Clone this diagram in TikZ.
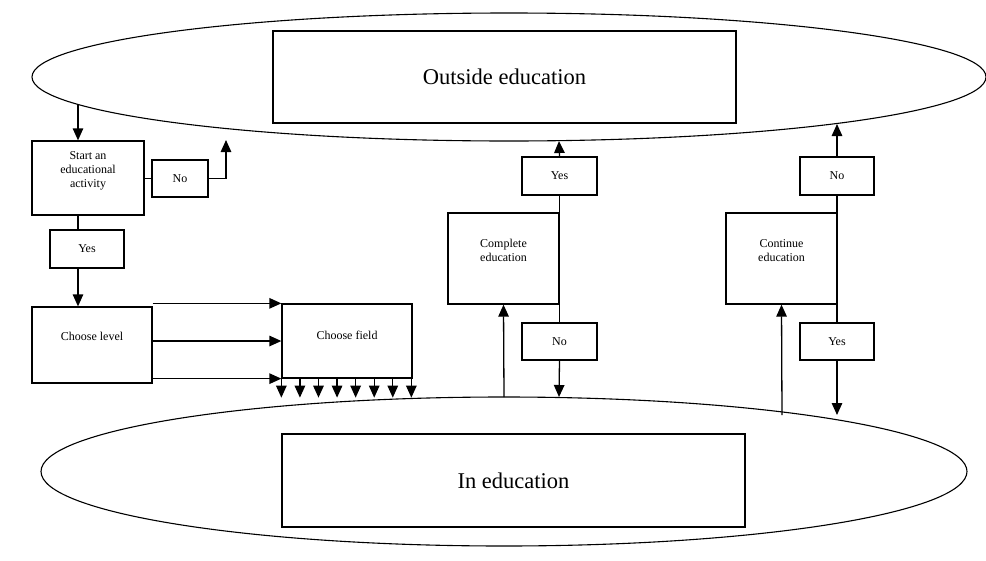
\documentclass[tikz,border=0pt]{standalone}
\usepackage{fontspec}
\setmainfont{Liberation Serif}
\usetikzlibrary{arrows.meta,shapes.geometric}

\tikzset{
  zone/.style={draw, ellipse, line width=1.1pt, inner sep=0pt},
  title/.style={draw, line width=1.3pt, inner sep=0pt, font=\fontsize{22.5}{26}\selectfont},
  box/.style={draw, line width=1.3pt, inner sep=0pt, align=center, font=\fontsize{12}{14}\selectfont},
  lbl/.style={align=center, inner sep=0pt, font=\fontsize{12}{14}\selectfont},
  arr/.style={line width=1.3pt, -{Triangle[length=12pt,width=10.5pt]}},
  ln/.style={line width=1.3pt}
}

\begin{document}
\begin{tikzpicture}[x=1pt, y=-1pt]
\useasboundingbox (0,0) rectangle (986,560);
%----------------------------------------
\node[zone, minimum width=954pt, minimum height=128pt] (outside) at (509,77) {};
\node[zone, minimum width=926pt, minimum height=149pt] (ineduc) at (504,471.5) {};
\node[title, minimum width=463pt, minimum height=92pt] (outbox) at (504.5,77) {Outside education};
\node[title, minimum width=463pt, minimum height=93pt] (inbox) at (513.5,480.5) {In education};
%----------------------------------------
\node[box, minimum width=112pt, minimum height=74pt,
      label={[lbl, yshift=7pt]center:Start an\\educational\\activity}] (start) at (88,178) {};
\node[box, minimum width=56pt, minimum height=37pt] (no1) at (180,178.5) {No};
\node[box, minimum width=74pt, minimum height=38pt] (yes1) at (87,249) {Yes};
\node[box, minimum width=120pt, minimum height=76pt,
      label={[lbl, yshift=9pt]center:Choose level}] (level) at (92,345) {};
\node[box, minimum width=130pt, minimum height=74pt,
      label={[lbl, yshift=6pt]center:Choose field}] (field) at (347,341) {};
\node[box, minimum width=111pt, minimum height=91pt,
      label={[lbl, yshift=8pt]center:Complete\\education}] (comp) at (503.5,258.5) {};
\node[box, minimum width=75pt, minimum height=38pt] (yes2) at (559.5,176) {Yes};
\node[box, minimum width=75pt, minimum height=37pt] (no2) at (559.5,341.5) {No};
\node[box, minimum width=111pt, minimum height=91pt,
      label={[lbl, yshift=8pt]center:Continue\\education}] (cont) at (781.5,258.5) {};
\node[box, minimum width=74pt, minimum height=38pt] (no3) at (837,176) {No};
\node[box, minimum width=74pt, minimum height=37pt] (yes3) at (837,341.5) {Yes};
%----------------------------------------
\coordinate (o1) at (78,104);
\coordinate (o2) at (226,140);
\coordinate (o3) at (559,141);
\coordinate (o4) at (837,124);
\coordinate (i1) at (504,397);
\coordinate (i2) at (559,397);
\coordinate (i3) at (782,415);
\coordinate (i4) at (837,415);
%----------------------------------------
\draw[arr] (o1) -- (o1 |- start.north);
\draw[ln] (start.east |- no1.west) -- (no1.west);
\draw[arr] (no1.east) -| (o2);
\draw[ln] (o1 |- start.south) -- (o1 |- yes1.north);
\draw[arr] (o1 |- yes1.south) -- (o1 |- level.north);
\draw[arr] (level.east |- field.north west) -- (field.north west);
\draw[arr] (level.east |- field.west) -- (field.west);
\draw[arr] (level.east |- field.south west) -- (field.south west);
\foreach \i in {0,...,7}
  \draw[arr] ([xshift=\i*130/7 pt]field.south west) -- ++(0,19);
%----------------------------------------
\draw[arr] (i1) -- (comp.south);
\draw[arr] (yes2.north) -- (o3);
\draw[ln] (yes2.south) -- (no2.north);
\draw[arr] (no2.south) -- (i2);
\draw[arr] (i3) -- (cont.south);
\draw[arr] (no3.north) -- (o4);
\draw[ln] (no3.south) -- (yes3.north);
\draw[arr] (yes3.south) -- (i4);
\end{tikzpicture}
\end{document}
